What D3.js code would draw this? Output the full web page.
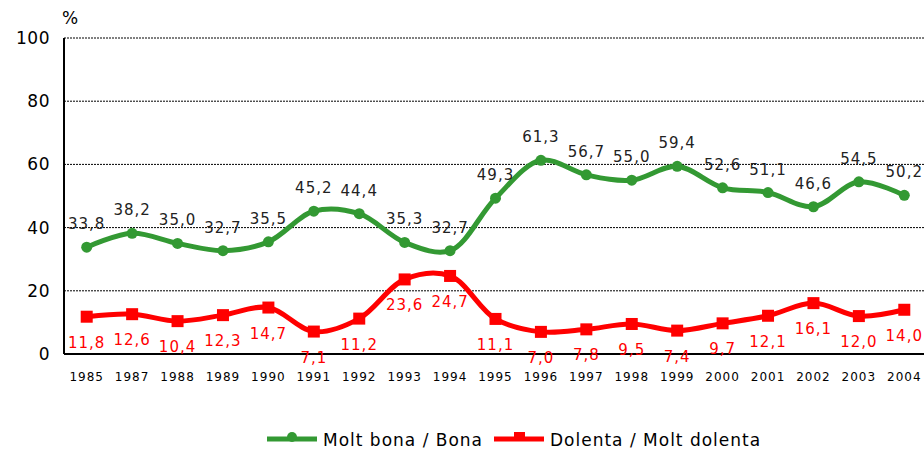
<!DOCTYPE html>
<html>
<head>
<meta charset="utf-8">
<script src="https://cdn.jsdelivr.net/npm/d3@7"></script>
<style>
  body { margin: 0; background: #fff; }
  text { font-family: "DejaVu Sans", Verdana, sans-serif; }
</style>
</head>
<body>
<script>
// data
const years = ["1985", "1987", "1988", "1989", "1990", "1991", "1992", "1993", "1994", "1995",
               "1996", "1997", "1998", "1999", "2000", "2001", "2002", "2003", "2004"];
const good = [33.8, 38.2, 35.0, 32.7, 35.5, 45.2, 44.4, 35.3, 32.7, 49.3,
              61.3, 56.7, 55.0, 59.4, 52.6, 51.1, 46.6, 54.5, 50.2];
const bad = [11.8, 12.6, 10.4, 12.3, 14.7, 7.1, 11.2, 23.6, 24.7, 11.1,
             7.0, 7.8, 9.5, 7.4, 9.7, 12.1, 16.1, 12.0, 14.0];
const yTicks = [0, 20, 40, 60, 80, 100];
const seriesNames = ["Molt bona / Bona", "Dolenta / Molt dolenta"];

const width = 924, height = 450;
const margin = { top: 38, right: -3, bottom: 96, left: 64 };

const svg = d3.select("body").append("svg")
    .attr("width", width)
    .attr("height", height);

// scales
const x = d3.scalePoint()
    .domain(years)
    .range([margin.left, width - margin.right])
    .padding(0.5);

const y = d3.scaleLinear()
    .domain([0, 100])
    .range([height - margin.bottom, margin.top]);

const fmt = v => v.toFixed(1).replace(".", ",");

// gridlines
svg.append("g")
    .selectAll("line")
    .data(yTicks.filter(d => d > 0))
    .enter().append("line")
    .attr("x1", margin.left)
    .attr("x2", width)
    .attr("y1", d => y(d))
    .attr("y2", d => y(d))
    .attr("stroke", "#000")
    .attr("stroke-width", 1)
    .attr("stroke-dasharray", "2,1");

// y axis labels
svg.append("g")
    .selectAll("text")
    .data(yTicks)
    .enter().append("text")
    .attr("x", 50)
    .attr("y", d => y(d) + 6)
    .style("text-anchor", "end")
    .style("font-size", "17px")
    .style("letter-spacing", "0.5px")
    .attr("fill", "#000")
    .text(d => d);

svg.append("text")
    .attr("x", 62)
    .attr("y", 24)
    .style("font-size", "17px")
    .text("%");

// axes lines
svg.append("line")
    .attr("x1", margin.left).attr("x2", margin.left)
    .attr("y1", y(100)).attr("y2", y(0))
    .attr("stroke", "#000").attr("stroke-width", 2);

svg.append("line")
    .attr("x1", margin.left).attr("x2", width)
    .attr("y1", y(0)).attr("y2", y(0))
    .attr("stroke", "#000").attr("stroke-width", 2);

// x labels
svg.append("g")
    .selectAll("text")
    .data(years)
    .enter().append("text")
    .attr("x", d => x(d))
    .attr("y", y(0) + 27)
    .style("text-anchor", "middle")
    .style("font-size", "12px")
    .style("letter-spacing", "1px")
    .text(d => d);

const line = d3.line()
    .x((d, i) => x(years[i]))
    .y(d => y(d))
    .curve(d3.curveCatmullRom.alpha(0.5));

const green = "#339933", red = "#ff0000";

// green series
svg.append("path")
    .datum(good)
    .attr("d", line)
    .attr("fill", "none")
    .attr("stroke", green)
    .attr("stroke-width", 5)
    .attr("stroke-linejoin", "round");

svg.append("g")
    .selectAll("circle")
    .data(good)
    .enter().append("circle")
    .attr("cx", (d, i) => x(years[i]))
    .attr("cy", d => y(d))
    .attr("r", 5.5)
    .attr("fill", green);

svg.append("g")
    .selectAll("text")
    .data(good)
    .enter().append("text")
    .attr("x", (d, i) => x(years[i]))
    .attr("y", d => y(d) - 18)
    .style("text-anchor", "middle")
    .style("font-size", "15px")
    .style("letter-spacing", "1px")
    .attr("fill", "#222")
    .text(d => fmt(d));

// red series
svg.append("path")
    .datum(bad)
    .attr("d", line)
    .attr("fill", "none")
    .attr("stroke", red)
    .attr("stroke-width", 5)
    .attr("stroke-linejoin", "round");

svg.append("g")
    .selectAll("rect")
    .data(bad)
    .enter().append("rect")
    .attr("x", (d, i) => x(years[i]) - 6)
    .attr("y", d => y(d) - 6)
    .attr("width", 12)
    .attr("height", 12)
    .attr("fill", red);

svg.append("g")
    .selectAll("text")
    .data(bad)
    .enter().append("text")
    .attr("x", (d, i) => x(years[i]))
    .attr("y", d => y(d) + 31)
    .style("text-anchor", "middle")
    .style("font-size", "15px")
    .style("letter-spacing", "1px")
    .attr("fill", red)
    .text(d => fmt(d));

// legend
const legend = svg.append("g");
const legendItems = [
    { name: seriesNames[0], color: green, x: 267, shape: "circle" },
    { name: seriesNames[1], color: red, x: 494, shape: "rect" }
];
legendItems.forEach(item => {
    legend.append("line")
        .attr("x1", item.x).attr("x2", item.x + 50)
        .attr("y1", 439).attr("y2", 439)
        .attr("stroke", item.color).attr("stroke-width", 5);
    if (item.shape === "circle") {
        legend.append("circle")
            .attr("cx", item.x + 25).attr("cy", 437).attr("r", 5)
            .attr("fill", item.color);
    } else {
        legend.append("rect")
            .attr("x", item.x + 20).attr("y", 432).attr("width", 11).attr("height", 9)
            .attr("fill", item.color);
    }
    legend.append("text")
        .attr("x", item.x + 56)
        .attr("y", 446)
        .style("font-size", "17px")
        .style("letter-spacing", "1px")
        .text(item.name);
});
</script>
</body>
</html>
